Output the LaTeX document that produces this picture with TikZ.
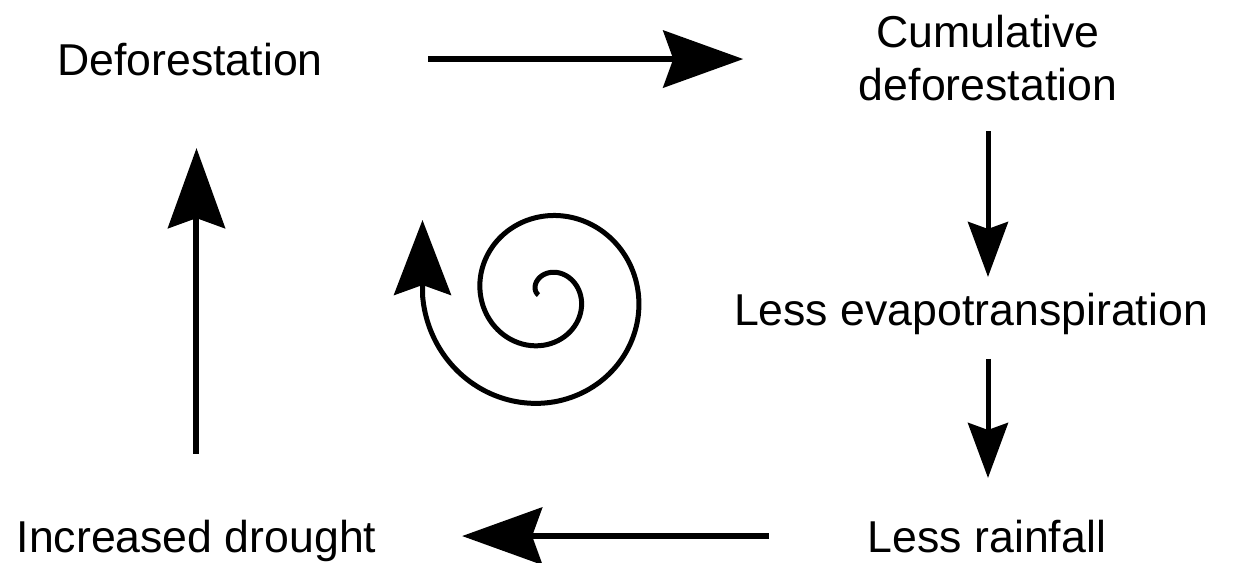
\documentclass[tikz,border=0pt]{standalone}
\usepackage{fontspec}
\setmainfont{Liberation Sans}
\usetikzlibrary{arrows.meta, calc}

\begin{document}
\begin{tikzpicture}
      [
        txt/.style={inner sep=0pt, align=center, font=\fontsize{12.7}{15}\selectfont},
        flow/.style={line width=0.06cm, -{Stealth[length=0.8cm, width=0.57cm, inset=0.1cm]}},
        thinflow/.style={line width=0.05cm, -{Stealth[length=0.55cm, width=0.4cm, inset=0.07cm]}},
        swirl/.style={line width=0.05cm, -{Stealth[length=0.75cm, width=0.57cm, inset=0.1cm]}}
      ]
      \useasboundingbox (0,0) rectangle (12.37,5.62);
      % labels
      \node [txt, anchor=base] (defor)   at (1.90,4.87) {Deforestation};
      \node [txt]              (cumul)   at (9.88,5.04) {Cumulative\\deforestation};
      \node [txt, anchor=base] (evap)    at (9.71,2.37) {Less evapotranspiration};
      \node [txt, anchor=base] (rain)    at (9.87,0.10) {Less rainfall};
      \node [txt, anchor=base] (drought) at (1.965,0.10) {Increased drought};
      % arrows
      \draw [flow, shorten <=1.05cm, shorten >=1.15cm]
      (defor.east) -- (defor.east -| cumul.west);
      \draw [thinflow, shorten <=0.30cm, shorten >=0.15cm]
      (cumul.south) -- (cumul.south |- evap.north);
      \draw [thinflow, shorten <=0.24cm, shorten >=0.41cm]
      (cumul.south |- evap.south) -- (cumul.south |- rain.north);
      \draw [flow, shorten <=0.98cm, shorten >=0.85cm]
      (rain.west) -- (rain.west -| drought.east);
      \draw [flow, shorten <=0.65cm, shorten >=0.72cm]
      (drought.north) -- (drought.north |- defor.south);
      % spiral
      \begin{scope}[shift={(5.45,2.67)}]
        \draw [swirl] plot [domain=180:-540, samples=160, smooth]
        ({\x}:{0.21+0.145*(90-\x)/90}) -- ++(0,0.75);
      \end{scope}
\end{tikzpicture}
\end{document}
